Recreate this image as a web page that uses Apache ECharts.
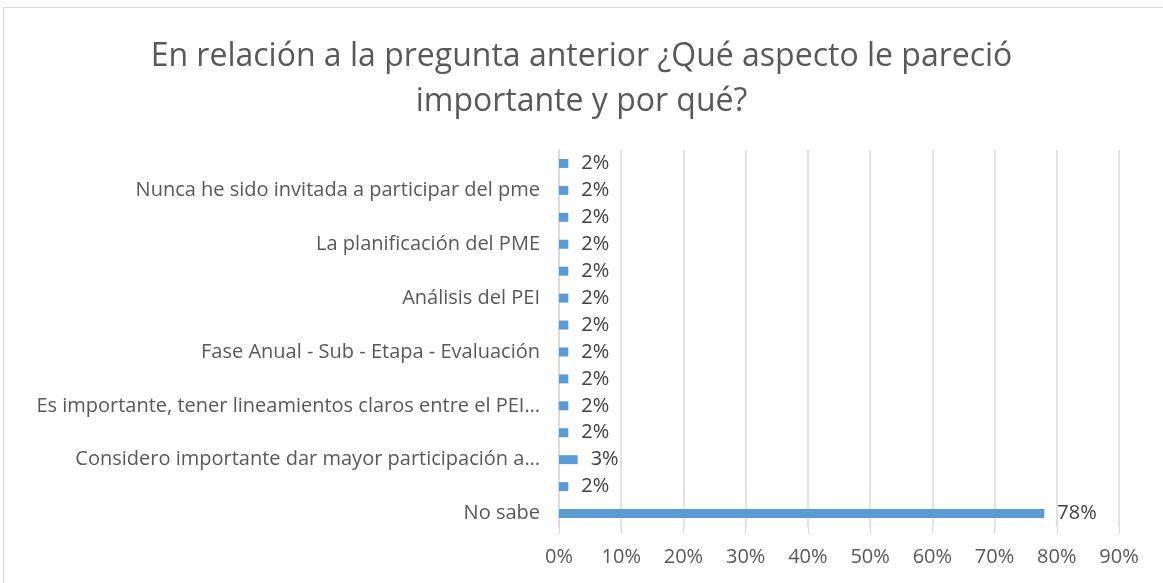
<!DOCTYPE html>
<html>
<head>
<meta charset="utf-8">
<script src="https://cdn.jsdelivr.net/npm/echarts@6/dist/echarts.min.js"></script>
<style>
  html, body { margin: 0; padding: 0; background: #fff; }
  #frame { position: absolute; left: 3px; top: 7px; width: 1170px; height: 590px; border: 1px solid #d9d9d9; box-sizing: border-box; }
  #chart { position: absolute; left: 0; top: 0; width: 1163px; height: 583px; }
</style>
</head>
<body>
<div id="frame"></div>
<div id="chart"></div>
<script>
// categories from bottom to top; every second one has no visible label
const categories = [
    'No sabe',
    '',
    'Considero importante dar mayor participación a…',
    ' ',
    'Es importante, tener lineamientos claros entre el PEI…',
    '  ',
    'Fase Anual - Sub - Etapa - Evaluación',
    '   ',
    'Análisis del PEI',
    '    ',
    'La planificación del PME',
    '     ',
    'Nunca he sido invitada a participar del pme',
    '      '
];
const values = [78, 1.5, 3, 1.5, 1.5, 1.5, 1.5, 1.5, 1.5, 1.5, 1.5, 1.5, 1.5, 1.5];
const xTicks = [0, 10, 20, 30, 40, 50, 60, 70, 80, 90];

const font = 'Open Sans';
const chart = echarts.init(document.getElementById('chart'));
chart.setOption({
    animation: false,
    title: {
        text: 'En relación a la pregunta anterior ¿Qué aspecto le pareció\nimportante y por qué?',
        left: 'center',
        top: 29,
        textStyle: {
            fontFamily: font,
            fontSize: 32,
            fontWeight: 'normal',
            color: '#595959',
            lineHeight: 45
        }
    },
    grid: {
        left: 559,
        right: 44,
        top: 150,
        bottom: 56
    },
    xAxis: {
        type: 'value',
        min: xTicks[0],
        max: xTicks[xTicks.length - 1],
        interval: 10,
        axisLine: { show: false },
        axisTick: { show: true, length: 7, lineStyle: { color: '#d9d9d9' } },
        splitLine: { show: true, lineStyle: { color: '#d9d9d9', width: 1.5 } },
        axisLabel: {
            formatter: v => v + '%',
            margin: 20,
            fontFamily: font,
            fontSize: 20,
            color: '#595959'
        }
    },
    yAxis: {
        type: 'category',
        data: categories,
        axisLine: { show: true, lineStyle: { color: '#d9d9d9', width: 1.5 } },
        axisTick: { show: false },
        axisLabel: {
            interval: 0,
            margin: 19,
            fontFamily: font,
            fontSize: 20,
            color: '#595959'
        }
    },
    series: [{
        type: 'bar',
        data: values,
        barWidth: 9,
        itemStyle: { color: '#5b9bd5' },
        label: {
            show: true,
            position: 'right',
            distance: 13,
            formatter: p => Math.round(p.value) + '%',
            fontFamily: font,
            fontSize: 20,
            color: '#404040'
        }
    }]
});
</script>
</body>
</html>
